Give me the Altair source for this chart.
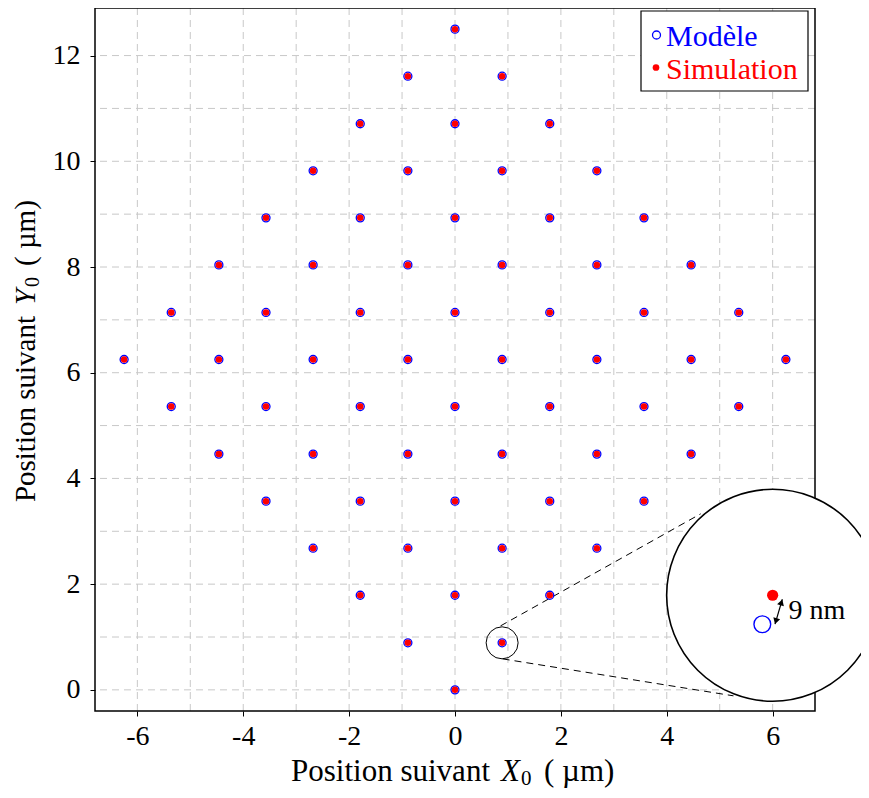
import altair as alt
import pandas as pd

FONT = "'Liberation Serif', 'Times New Roman', Times, serif"
W, H = 720, 703

# ---- lattice positions (µm), rows of constant Y0 ----
row_y = [0.00, 0.89, 1.79, 2.68, 3.57, 4.46, 5.36, 6.25, 7.14, 8.04, 8.93, 9.82, 10.71, 11.61, 12.50]
row_x = [
    [0.00],
    [-0.89, 0.89],
    [-1.79, 0.00, 1.79],
    [-2.68, -0.89, 0.89, 2.68],
    [-3.57, -1.79, 0.00, 1.79, 3.57],
    [-4.46, -2.68, -0.89, 0.89, 2.68, 4.46],
    [-5.36, -3.57, -1.79, 0.00, 1.79, 3.57, 5.36],
    [-6.25, -4.46, -2.68, -0.89, 0.89, 2.68, 4.46, 6.25],
    [-5.36, -3.57, -1.79, 0.00, 1.79, 3.57, 5.36],
    [-4.46, -2.68, -0.89, 0.89, 2.68, 4.46],
    [-3.57, -1.79, 0.00, 1.79, 3.57],
    [-2.68, -0.89, 0.89, 2.68],
    [-1.79, 0.00, 1.79],
    [-0.89, 0.89],
    [0.00],
]

x_ticks = [-6, -4, -2, 0, 2, 4, 6]
y_ticks = [0, 2, 4, 6, 8, 10, 12]
grid_x = [-6, -5, -4, -3, -2, -1, 0, 1, 2, 3, 4, 5, 6]
grid_y = [0, 1, 2, 3, 4, 5, 6, 7, 8, 9, 10, 11, 12]

# ---- zoom inset annotation (data units) ----
zoom_src = [0.89, 0.89]           # highlighted point
zoom_center = [6.0, 1.79]         # centre of the magnified view
inset_sim = [6.0, 1.79]
inset_model = [5.805, 1.241]
arrow_from = [6.045, 1.245]
arrow_to = [6.183, 1.714]
arrow_head_lo = [6.061, 1.300]
arrow_head_hi = [6.165, 1.655]
arrow_label = [6.30, 1.34]
conn_x = [0.86, 0.90]
conn_y = [1.21, 0.586]
conn_x2 = [4.64, 5.26]
conn_y2 = [3.33, -0.113]

pts = pd.DataFrame(
    [{"x": x, "y": y} for y, xs in zip(row_y, row_x) for x in xs]
)

x_axis = alt.Axis(values=x_ticks, title=None, grid=False, domain=False, ticks=True,
                  tickSize=5, tickWidth=1, tickColor="black", labelFont=FONT,
                  labelFontSize=28, labelColor="black", labelPadding=6,
                  labelExpr="datum.value + ''")
y_axis = alt.Axis(values=y_ticks, title=None, grid=False, domain=False, ticks=True,
                  tickSize=5, tickWidth=1, tickColor="black", labelFont=FONT,
                  labelFontSize=28, labelColor="black", labelPadding=10,
                  labelExpr="datum.value + ''")
xs = alt.Scale(domain=[-6.8, 6.8], nice=False, zero=False)
ys = alt.Scale(domain=[-0.4, 12.9], nice=False, zero=False)


def X(f="x"):
    return alt.X(f"{f}:Q", scale=xs, axis=x_axis)


def Y(f="y"):
    return alt.Y(f"{f}:Q", scale=ys, axis=y_axis)


one = pd.DataFrame({"a": [0]})
dash = [7, 5]
grid_col = "#c8c8c8"

grid_v = alt.Chart(pd.DataFrame({"x": grid_x})).mark_rule(
    color=grid_col, strokeDash=dash, strokeWidth=1).encode(x=X())
grid_h = alt.Chart(pd.DataFrame({"y": grid_y})).mark_rule(
    color=grid_col, strokeDash=dash, strokeWidth=1).encode(y=Y())

frame = alt.Chart(one).mark_rect(fillOpacity=0, stroke="black", strokeWidth=1.5).encode(
    x=alt.value(0), x2=alt.value(W), y=alt.value(0), y2=alt.value(H))

conn = alt.Chart(pd.DataFrame({"x": conn_x, "y": conn_y, "x2": conn_x2, "y2": conn_y2})).mark_rule(
    color="black", strokeDash=[7, 5], strokeWidth=1).encode(
    x=X(), y=Y(), x2="x2:Q", y2="y2:Q")

small_circ = alt.Chart(pd.DataFrame({"x": [zoom_src[0]], "y": [zoom_src[1]]})).mark_point(
    shape="circle", filled=False, stroke="black", strokeWidth=1, size=1024, opacity=1).encode(
    x=X(), y=Y())

model = alt.Chart(pts).mark_point(
    shape="circle", filled=False, stroke="#0000ff", strokeWidth=1.3, size=64, opacity=1).encode(
    x=X(), y=Y())
sim = alt.Chart(pts).mark_circle(color="#ff0000", size=42, opacity=1).encode(x=X(), y=Y())

big_circ = alt.Chart(pd.DataFrame({"x": [zoom_center[0]], "y": [zoom_center[1]]})).mark_point(
    shape="circle", filled=True, fill="white", fillOpacity=1, stroke="black", strokeWidth=1.6,
    strokeOpacity=1, size=212 ** 2, opacity=1).encode(x=X(), y=Y())

in_model = alt.Chart(pd.DataFrame({"x": [inset_model[0]], "y": [inset_model[1]]})).mark_point(
    shape="circle", filled=False, stroke="#0000ff", strokeWidth=1.4, size=280, opacity=1).encode(
    x=X(), y=Y())
in_sim = alt.Chart(pd.DataFrame({"x": [inset_sim[0]], "y": [inset_sim[1]]})).mark_circle(
    color="#ff0000", size=125, opacity=1).encode(x=X(), y=Y())

arrow = alt.Chart(pd.DataFrame({"x": [arrow_from[0]], "y": [arrow_from[1]],
                                "x2": [arrow_to[0]], "y2": [arrow_to[1]]})).mark_rule(
    color="black", strokeWidth=1.2).encode(x=X(), y=Y(), x2="x2:Q", y2="y2:Q")
head_hi = alt.Chart(pd.DataFrame({"x": [arrow_head_hi[0]], "y": [arrow_head_hi[1]]})).mark_point(
    shape="triangle-up", filled=True, color="black", size=50, angle=16.5, opacity=1).encode(
    x=X(), y=Y())
head_lo = alt.Chart(pd.DataFrame({"x": [arrow_head_lo[0]], "y": [arrow_head_lo[1]]})).mark_point(
    shape="triangle-down", filled=True, color="black", size=50, angle=16.5, opacity=1).encode(
    x=X(), y=Y())
nm_text = alt.Chart(pd.DataFrame({"x": [arrow_label[0]], "y": [arrow_label[1]]})).mark_text(
    text="9 nm", font=FONT, fontSize=28, align="left", baseline="alphabetic", color="black").encode(
    x=X(), y=Y())

# ---- legend (pixel layout) ----
leg_box = alt.Chart(one).mark_rect(fill="white", stroke="black", strokeWidth=1.2).encode(
    x=alt.value(546), x2=alt.value(713), y=alt.value(3), y2=alt.value(83))
leg_m = alt.Chart(one).mark_point(shape="circle", filled=False, stroke="#0000ff",
                                  strokeWidth=1.3, size=64, opacity=1).encode(
    x=alt.value(561.5), y=alt.value(27))
leg_s = alt.Chart(one).mark_circle(color="#ff0000", size=45, opacity=1).encode(
    x=alt.value(561), y=alt.value(59.5))
leg_mt = alt.Chart(one).mark_text(text="Modèle", font=FONT, fontSize=30, color="#0000ff",
                                  align="left", baseline="alphabetic").encode(
    x=alt.value(571), y=alt.value(38))
leg_st = alt.Chart(one).mark_text(text="Simulation", font=FONT, fontSize=30, color="#ff0000",
                                  align="left", baseline="alphabetic").encode(
    x=alt.value(571), y=alt.value(70.5))

# ---- axis titles (composed for italic variable + subscript) ----
TS = 31
xt1 = alt.Chart(one).mark_text(text="Position suivant", font=FONT, fontSize=TS, align="right",
                               baseline="alphabetic", color="black").encode(
    x=alt.value(395), y=alt.value(773))
xt2 = alt.Chart(one).mark_text(text="X", font=FONT, fontSize=TS, fontStyle="italic", align="left",
                               baseline="alphabetic", color="black").encode(
    x=alt.value(406), y=alt.value(773))
xt3 = alt.Chart(one).mark_text(text="0", font=FONT, fontSize=21, align="left",
                               baseline="alphabetic", color="black").encode(
    x=alt.value(426), y=alt.value(777))
xt4 = alt.Chart(one).mark_text(text="( µm)", font=FONT, fontSize=TS, align="left",
                               baseline="alphabetic", color="black").encode(
    x=alt.value(449), y=alt.value(773))

TY = 29
yt1 = alt.Chart(one).mark_text(text="Position suivant", font=FONT, fontSize=TY, align="right",
                               baseline="alphabetic", angle=270, color="black").encode(
    x=alt.value(-60), y=alt.value(308))
yt2 = alt.Chart(one).mark_text(text="Y", font=FONT, fontSize=TY, fontStyle="italic", align="left",
                               baseline="alphabetic", angle=270, color="black").encode(
    x=alt.value(-60), y=alt.value(297))
yt3 = alt.Chart(one).mark_text(text="0", font=FONT, fontSize=20, align="left",
                               baseline="alphabetic", angle=270, color="black").encode(
    x=alt.value(-56), y=alt.value(279))
yt4 = alt.Chart(one).mark_text(text="( µm)", font=FONT, fontSize=TY, align="left",
                               baseline="alphabetic", angle=270, color="black").encode(
    x=alt.value(-60), y=alt.value(258))

chart = alt.layer(
    grid_v, grid_h, frame, conn, small_circ, model, sim,
    big_circ, in_sim, in_model, arrow, head_hi, head_lo, nm_text,
    leg_box, leg_m, leg_s, leg_mt, leg_st,
    xt1, xt2, xt3, xt4, yt1, yt2, yt3, yt4,
).properties(
    width=W, height=H,
    autosize=alt.AutoSizeParams(type="none"),
    padding={"left": 87, "top": 0, "right": 46, "bottom": 79},
    background="white",
).configure_view(stroke=None)

chart.save("out.html", embed_options={"renderer": "svg", "actions": False})
